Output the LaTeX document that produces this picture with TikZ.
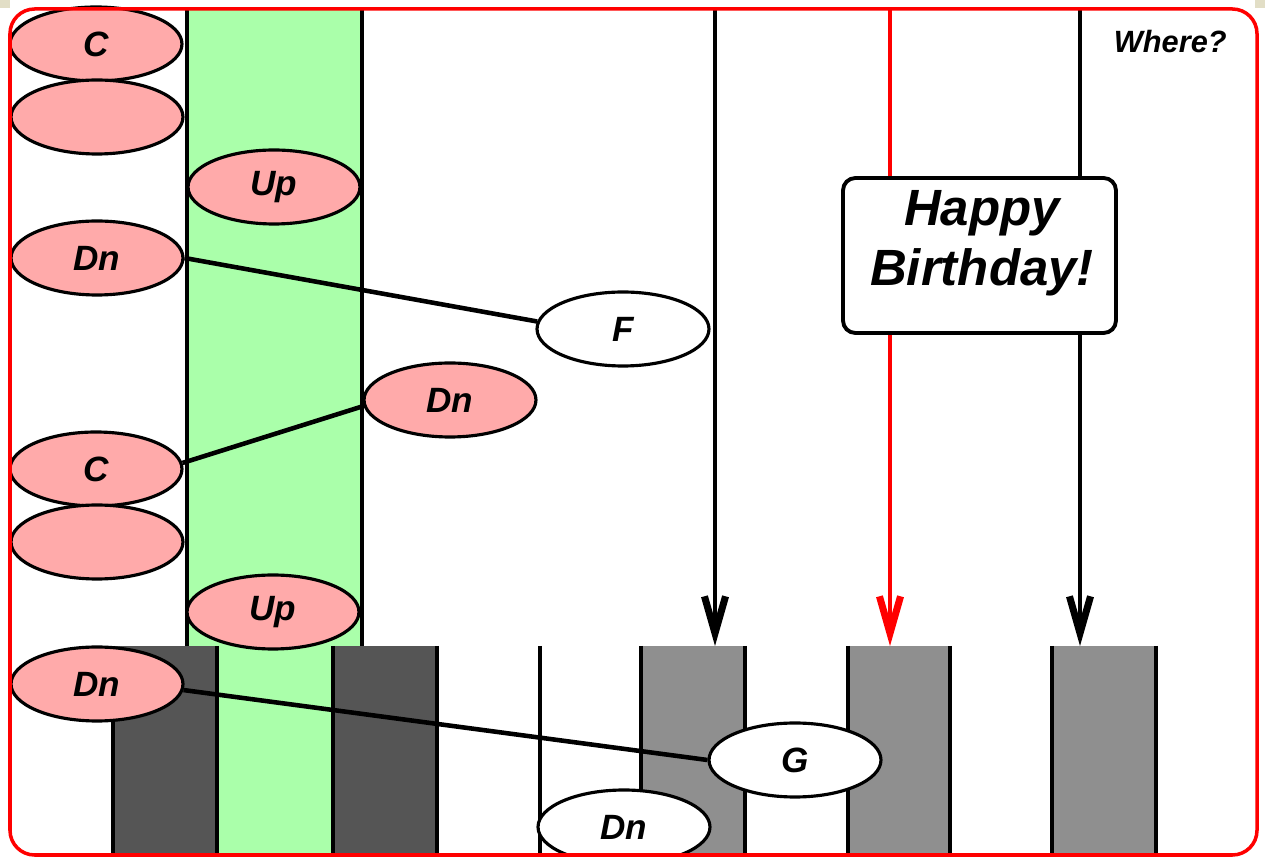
\documentclass[tikz,border=0pt]{standalone}
\usepackage{fontspec}
\setmainfont{Liberation Sans}
\usetikzlibrary{shapes.geometric,arrows.meta}
\definecolor{ovpink}{HTML}{FFAAAA}
\definecolor{colgreen}{HTML}{AAFFAA}
\definecolor{darkbox}{HTML}{555555}
\definecolor{midbox}{HTML}{8F8F8F}
\definecolor{beigec}{HTML}{E2DEC6}
\tikzset{
  oval/.style={ellipse, draw=black, line width=1.8pt, minimum width=3.44cm, minimum height=1.48cm, inner sep=0pt,
    font=\fontsize{20}{24}\selectfont\bfseries\itshape},
  pinkoval/.style={oval, fill=ovpink},
  whiteoval/.style={oval, fill=white},
  vline/.style={line width=2.3pt, black},
  conn/.style={line width=2.6pt, black},
  tiparrow/.style={-{Straight Barb[length=21pt,width=12pt,line width=4pt]}},
}
\begin{document}
\begin{tikzpicture}[x=0.02cm,y=-0.02cm]
\useasboundingbox (0,0) rectangle (1265,857);
\clip (0,0) rectangle (1265,857);
\fill[white] (0,0) rectangle (1265,857);
\fill[beigec] (0,0) rectangle (10,8);
\fill[beigec] (1255,0) rectangle (1265,8);
% green column
\fill[colgreen] (187,9) rectangle (362,857);
\draw[vline] (187,9) -- (187,646);
\draw[vline] (362,9) -- (362,646);
% boxes
\fill[darkbox] (113,646) rectangle (217,857);
\fill[darkbox] (333,646) rectangle (437,857);
\fill[midbox] (641,646) rectangle (745,857);
\fill[midbox] (848,646) rectangle (950,857);
\fill[midbox] (1052,646) rectangle (1156,857);
\foreach \xx in {113,217,333,437,540,641,745,848,950,1052,1156}
  \draw[vline] (\xx,646) -- (\xx,857);
% arrows
\coordinate (a1t) at (715,9);  \coordinate (a1b) at (715,646);
\coordinate (a2t) at (890,9);  \coordinate (a2b) at (890,646);
\coordinate (a3t) at (1080,9); \coordinate (a3b) at (1080,646);
\draw[vline, tiparrow] (a1t) -- (a1b);
\draw[vline, tiparrow, red] (a2t) -- (a2b);
\draw[vline, tiparrow] (a3t) -- (a3b);
% ellipses
\node[pinkoval] (c1) at (96,44) {C};
\node[pinkoval] (e1) at (97,117) {};
\node[pinkoval] (up1) at (274,187) {Up};
\node[pinkoval] (dn1) at (97,258) {Dn};
\node[whiteoval] (F) at (623,329) {F};
\node[pinkoval] (dn2) at (450,400) {Dn};
\node[pinkoval] (c2) at (96,469) {C};
\node[pinkoval] (e2) at (97,542) {};
\node[pinkoval] (up2) at (273,612) {Up};
\node[pinkoval] (dn3) at (97,684) {Dn};
\node[whiteoval] (G) at (795,760) {G};
\node[whiteoval] (dn4) at (624,827) {Dn};
% connectors
\draw[conn] (dn1.east) -- (F.175);
\draw[conn] (c2.4) -- (dn2.184);
\draw[conn] (dn3.-4) -- (G.west);
% happy birthday
\node[draw=black, fill=white, line width=2.2pt, rounded corners=7pt, minimum width=5.46cm, minimum height=3.1cm] (hb) at (979.5,255.5) {};
\node[font=\fontsize{29}{34}\selectfont\bfseries\itshape, align=center, inner sep=0pt] (hbt) at (982,243) {Happy\\Birthday!};
% where
\node[font=\fontsize{17.5}{20}\selectfont\bfseries\itshape, anchor=base east, inner sep=0pt] (where) at (1227,53) {Where?};
% border
\draw[red, line width=2pt, rounded corners=14pt] (10,9) rectangle (1257,855);
\end{tikzpicture}
\end{document}
